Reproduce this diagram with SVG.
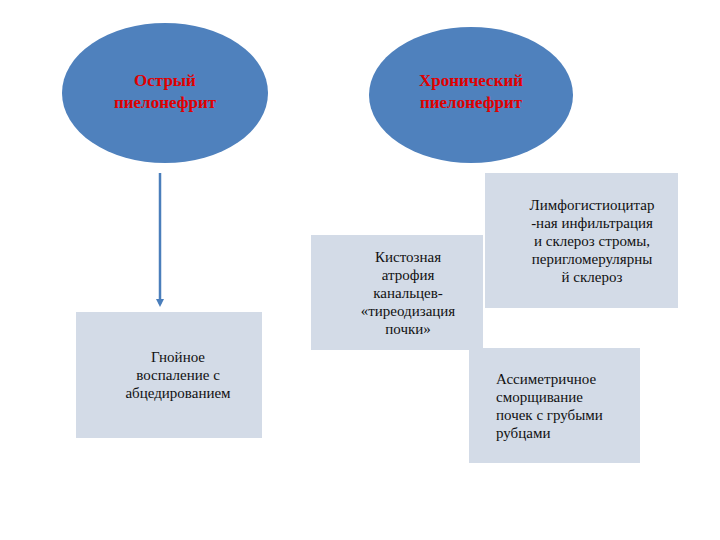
<svg xmlns="http://www.w3.org/2000/svg" width="720" height="540" viewBox="0 0 720 540">
<style>
.e{fill:#4f81bd}
.b{fill:#d3dbe7}
.t{font-family:"Liberation Serif",serif;font-size:15px;fill:#111}
.h{font-family:"Liberation Serif",serif;font-size:17px;font-weight:bold;fill:#e00000}
</style>
<defs><marker id="a" markerWidth="8" markerHeight="8" refX="5" refY="4" orient="auto" markerUnits="userSpaceOnUse"><path d="M0,0 L8,4 L0,8 Z" fill="#4a7ebb"/></marker></defs>
<rect width="720" height="540" fill="#fff"/>
<g id="connectors"><line x1="160" y1="173" x2="160" y2="304" stroke="#4a7ebb" stroke-width="2.5" marker-end="url(#a)"/></g>
<g id="acute"><ellipse class="e" cx="165" cy="93" rx="103" ry="70"/><text class="h" text-anchor="middle" x="165" y="86">Острый</text><text class="h" text-anchor="middle" x="165" y="108">пиелонефрит</text></g>
<g id="chronic"><ellipse class="e" cx="471" cy="95" rx="102" ry="68"/><text class="h" text-anchor="middle" x="471" y="86">Хронический</text><text class="h" text-anchor="middle" x="471" y="108">пиелонефрит</text></g>
<g id="pus"><rect class="b" x="76" y="312" width="186" height="126"/><text class="t" text-anchor="middle" x="178" y="362">Гнойное</text><text class="t" text-anchor="middle" x="178" y="380">воспаление с</text><text class="t" text-anchor="middle" x="178" y="398">абцедированием</text></g>
<g id="cyst"><rect class="b" x="311" y="235" width="172" height="115"/><text class="t" text-anchor="middle" x="408" y="262">Кистозная</text><text class="t" text-anchor="middle" x="408" y="280">атрофия</text><text class="t" text-anchor="middle" x="408" y="298">канальцев-</text><text class="t" text-anchor="middle" x="408" y="316">«тиреодизация</text><text class="t" text-anchor="middle" x="408" y="334">почки»</text></g>
<g id="lymph"><rect class="b" x="485" y="173" width="193" height="135"/><text class="t" text-anchor="middle" x="592" y="210">Лимфогистиоцитар</text><text class="t" text-anchor="middle" x="592" y="228">-ная инфильтрация</text><text class="t" text-anchor="middle" x="592" y="246">и склероз стромы,</text><text class="t" text-anchor="middle" x="592" y="264">перигломерулярны</text><text class="t" text-anchor="middle" x="592" y="282">й склероз</text></g>
<g id="asym"><rect class="b" x="469" y="348" width="171" height="115"/><text class="t" x="496" y="384">Ассиметричное</text><text class="t" x="496" y="402">сморщивание</text><text class="t" x="496" y="420">почек с грубыми</text><text class="t" x="496" y="438">рубцами</text></g>
</svg>
